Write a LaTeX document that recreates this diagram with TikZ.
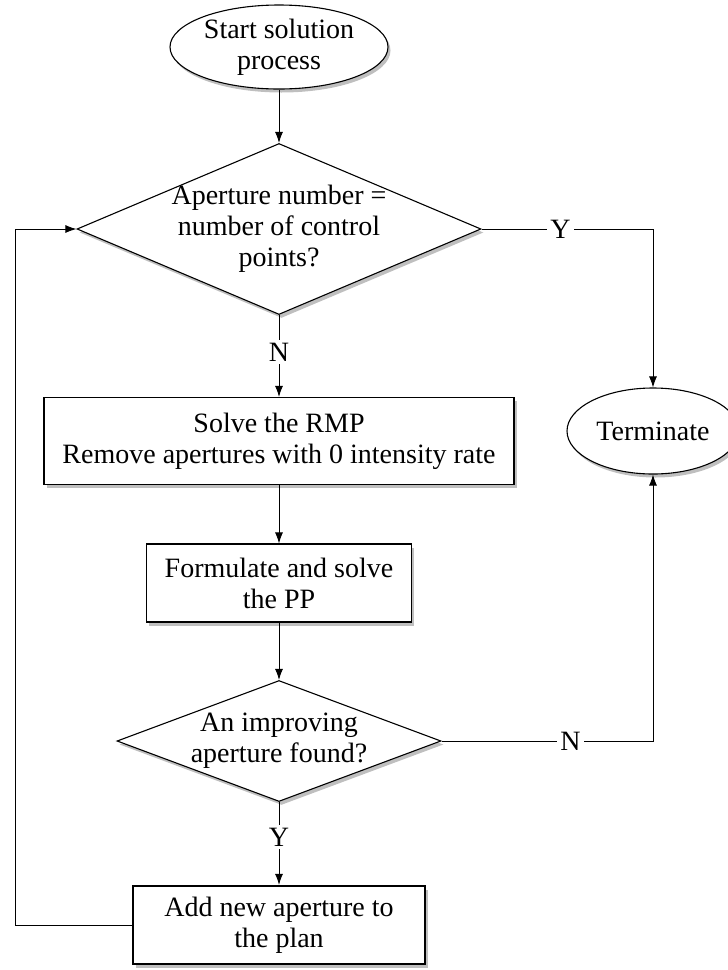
\documentclass[tikz,border=0pt]{standalone}
\usepackage{fontspec}
\setmainfont{Liberation Serif}
\usetikzlibrary{shapes.geometric,shadows,arrows.meta}
\tikzset{
  shade/.style={drop shadow={opacity=0.5, shadow xshift=2.5pt, shadow yshift=-3.5pt}},
  terminal/.style={ellipse, draw, fill=white, line width=1.1pt, inner sep=0pt, align=center, shade},
  process/.style={rectangle, draw, fill=white, line width=1.1pt, align=center, shade},
  decision/.style={diamond, draw, fill=white, line width=1.1pt, inner sep=-10pt, align=center, shade},
  flow/.style={-{Latex[length=11pt,width=8pt]}, line width=0.9pt},
  answer/.style={fill=white, inner sep=3pt}
}
\begin{document}
\begin{tikzpicture}[x=1pt, y=-1pt, font=\fontsize{28}{31}\selectfont]
\useasboundingbox (0, 0) rectangle (728, 970);
\node[terminal, minimum width=218pt, minimum height=84pt] (start) at (279, 47) {Start solution\\process};
\node[decision, aspect=2.36, minimum width=404pt, minimum height=171pt] (count) at (279, 229) {Aperture number =\\number of control\\points?};
\node[process, minimum width=470pt, minimum height=87pt] (rmp) at (279, 441) {Solve the RMP\\Remove apertures with 0 intensity rate};
\node[process, minimum width=265pt, minimum height=78pt] (pp) at (279, 583) {Formulate and solve\\the PP};
\node[decision, aspect=2.68, minimum width=324pt, minimum height=121pt] (found) at (279, 741) {An improving\\aperture found?};
\node[process, line width=2.2pt, minimum width=292pt, minimum height=78pt] (add) at (279, 925) {Add new aperture to\\the plan};
\node[terminal, minimum width=172pt, minimum height=86pt] (stop) at (653, 431) {Terminate};
\coordinate (loop) at (15, 0);

\draw[flow] (start) -- (count);
\draw[flow] (count) -- node[answer, pos=0.45] {N} (rmp);
\draw[flow] (rmp) -- (pp);
\draw[flow] (pp) -- (found);
\draw[flow] (found) -- node[answer, pos=0.42] {Y} (add);
\draw[flow] (count.east) -- node[answer, pos=0.46] {Y} (count.east -| stop) -- (stop);
\draw[flow] (found.east) -- node[answer, pos=0.61] {N} (found.east -| stop) -- (stop);
\draw[flow] (add.west) -- (add.west -| loop) |- (count.west);
\end{tikzpicture}
\end{document}
